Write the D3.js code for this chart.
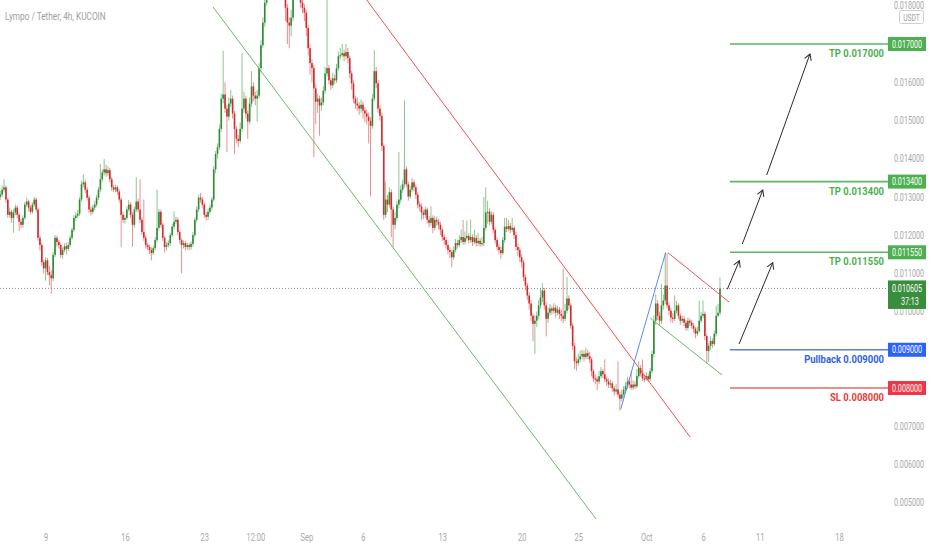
<!DOCTYPE html>
<html><head><meta charset="utf-8">
<script src="https://cdn.jsdelivr.net/npm/d3@7"></script>
<style>body{margin:0;background:#fff;} svg{display:block;font-family:Roboto,"DejaVu Sans",sans-serif;}</style>
</head><body>
<svg id="chart" width="932" height="550"></svg>
<script>
// ---------------- DATA ----------------
const title = "Lympo / Tether, 4h, KUCOIN";
const firstCandle = new Date(2022, 7, 5, 0, 0);   // first 4h bar
const firstOpen = 0.01300;
const closes = [
0.01306,0.01319,0.01325,0.01293,0.01253,0.01261,0.01245,0.01259,0.01272,0.01253,
0.01235,0.01227,0.01245,0.01280,0.01288,0.01272,0.01261,0.01280,0.01293,0.01267,
0.01193,0.01174,0.01129,0.01113,0.01134,0.01103,0.01095,0.01087,0.01148,0.01193,
0.01182,0.01174,0.01148,0.01161,0.01171,0.01164,0.01174,0.01193,0.01214,0.01245,
0.01251,0.01256,0.01293,0.01333,0.01338,0.01319,0.01298,0.01267,0.01261,0.01272,
0.01280,0.01298,0.01319,0.01346,0.01364,0.01372,0.01362,0.01370,0.01346,0.01325,
0.01319,0.01325,0.01314,0.01293,0.01253,0.01240,0.01245,0.01267,0.01280,0.01253,
0.01227,0.01267,0.01288,0.01267,0.01240,0.01208,0.01193,0.01174,0.01169,0.01161,
0.01153,0.01166,0.01187,0.01219,0.01261,0.01227,0.01193,0.01169,0.01174,0.01179,
0.01200,0.01222,0.01235,0.01240,0.01208,0.01187,0.01174,0.01179,0.01169,0.01174,
0.01169,0.01177,0.01200,0.01240,0.01267,0.01298,0.01293,0.01280,0.01253,0.01248,
0.01261,0.01272,0.01293,0.01372,0.01412,0.01430,0.01478,0.01557,0.01568,0.01531,
0.01510,0.01544,0.01557,0.01518,0.01478,0.01452,0.01446,0.01478,0.01531,0.01557,
0.01518,0.01497,0.01544,0.01589,0.01565,0.01557,0.01565,0.01637,0.01697,0.01756,
0.01808,0.01848,0.01888,0.01914,0.01901,0.01941,0.01927,0.01901,0.01874,0.01848,
0.01835,0.01795,0.01756,0.01748,0.01769,0.01835,0.01874,0.01848,0.01835,0.01808,
0.01795,0.01782,0.01742,0.01689,0.01650,0.01637,0.01584,0.01549,0.01557,0.01539,
0.01547,0.01578,0.01623,0.01637,0.01605,0.01592,0.01610,0.01605,0.01637,0.01668,
0.01671,0.01676,0.01668,0.01679,0.01663,0.01623,0.01597,0.01557,0.01544,0.01539,
0.01531,0.01541,0.01526,0.01518,0.01510,0.01499,0.01486,0.01557,0.01629,0.01597,
0.01531,0.01512,0.01433,0.01253,0.01293,0.01280,0.01312,0.01267,0.01227,0.01245,
0.01280,0.01293,0.01319,0.01333,0.01372,0.01333,0.01301,0.01319,0.01338,0.01325,
0.01306,0.01280,0.01275,0.01259,0.01253,0.01267,0.01240,0.01232,0.01245,0.01219,
0.01240,0.01235,0.01227,0.01214,0.01195,0.01187,0.01174,0.01161,0.01156,0.01142,
0.01161,0.01179,0.01174,0.01187,0.01195,0.01182,0.01193,0.01198,0.01187,0.01195,
0.01182,0.01193,0.01179,0.01185,0.01177,0.01179,0.01219,0.01259,0.01261,0.01235,
0.01253,0.01214,0.01187,0.01169,0.01161,0.01153,0.01187,0.01222,0.01216,0.01224,
0.01214,0.01219,0.01200,0.01169,0.01161,0.01142,0.01129,0.01090,0.01068,0.01042,
0.01021,0.00989,0.00968,0.00976,0.00989,0.01016,0.01037,0.01055,0.01016,0.00981,
0.00997,0.01008,0.01002,0.01010,0.00997,0.01005,0.00994,0.00989,0.00981,0.01002,
0.01034,0.01016,0.00963,0.00910,0.00870,0.00865,0.00875,0.00883,0.00889,0.00881,
0.00891,0.00883,0.00875,0.00844,0.00825,0.00823,0.00817,0.00831,0.00844,0.00836,
0.00823,0.00817,0.00809,0.00812,0.00799,0.00791,0.00796,0.00783,0.00772,0.00783,
0.00796,0.00804,0.00817,0.00809,0.00801,0.00809,0.00804,0.00831,0.00852,0.00838,
0.00825,0.00823,0.00831,0.00823,0.00844,0.00889,0.00976,0.01021,0.00989,0.00976,
0.01016,0.01029,0.01068,0.01016,0.01002,0.00984,0.00981,0.01002,0.01016,0.00989,
0.00976,0.00981,0.00971,0.00957,0.00976,0.00971,0.00963,0.00955,0.00942,0.00949,
0.00976,0.00989,0.00994,0.00936,0.00897,0.00910,0.00923,0.00915,0.00942,0.00989,
0.00997,0.010605];
const highs = [
0.01316,0.01330,0.01346,0.01330,0.01298,0.01272,0.01266,0.01268,0.01280,0.01278,
0.01259,0.01242,0.01252,0.01287,0.01298,0.01292,0.01278,0.01286,0.01300,0.01298,
0.01272,0.01200,0.01180,0.01136,0.01142,0.01140,0.01120,0.01108,0.01156,0.01200,
0.01198,0.01188,0.01180,0.01168,0.01178,0.01180,0.01182,0.01200,0.01220,0.01252,
0.01260,0.01266,0.01300,0.01342,0.01359,0.01345,0.01325,0.01304,0.01275,0.01280,
0.01290,0.01305,0.01326,0.01386,0.01372,0.01399,0.01385,0.01380,0.01376,0.01352,
0.01332,0.01332,0.01330,0.01320,0.01298,0.01260,0.01252,0.01275,0.01292,0.01286,
0.01260,0.01275,0.01351,0.01295,0.01346,0.01246,0.01293,0.01200,0.01180,0.01175,
0.01168,0.01172,0.01195,0.01319,0.01268,0.01266,0.01232,0.01198,0.01182,0.01186,
0.01206,0.01230,0.01262,0.01248,0.01246,0.01214,0.01192,0.01186,0.01185,0.01180,
0.01180,0.01184,0.01208,0.01246,0.01274,0.01306,0.01310,0.01300,0.01286,0.01260,
0.01270,0.01280,0.01300,0.01380,0.01420,0.01440,0.01490,0.01570,0.01682,0.01600,
0.01540,0.01560,0.01580,0.01565,0.01525,0.01485,0.01462,0.01495,0.01676,0.01575,
0.01565,0.01525,0.01560,0.01629,0.01600,0.01575,0.01580,0.01650,0.01710,0.01770,
0.01825,0.01870,0.01905,0.01935,0.01925,0.01960,0.01955,0.01935,0.01910,0.01880,
0.01860,0.01845,0.01805,0.01770,0.01790,0.01850,0.01890,0.01885,0.01860,0.01845,
0.01820,0.01805,0.01790,0.01750,0.01700,0.01660,0.01645,0.01595,0.01570,0.01565,
0.01560,0.01590,0.01640,0.01816,0.01645,0.01612,0.01625,0.01620,0.01648,0.01680,
0.01690,0.01700,0.01685,0.01700,0.01690,0.01670,0.01630,0.01605,0.01565,0.01560,
0.01548,0.01555,0.01550,0.01535,0.01528,0.01520,0.01508,0.01570,0.01684,0.01640,
0.01605,0.01540,0.01520,0.01440,0.01340,0.01305,0.01325,0.01320,0.01275,0.01260,
0.01290,0.01417,0.01330,0.01345,0.01552,0.01380,0.01340,0.01330,0.01350,0.01345,
0.01332,0.01312,0.01288,0.01282,0.01266,0.01275,0.01272,0.01250,0.01275,0.01252,
0.01250,0.01248,0.01242,0.01235,0.01220,0.01202,0.01195,0.01180,0.01168,0.01162,
0.01170,0.01190,0.01188,0.01200,0.01215,0.01240,0.01210,0.01238,0.01205,0.01240,
0.01202,0.01215,0.01200,0.01205,0.01192,0.01195,0.01300,0.01325,0.01290,0.01270,
0.01262,0.01260,0.01220,0.01195,0.01178,0.01170,0.01195,0.01245,0.01245,0.01240,
0.01232,0.01245,0.01225,0.01208,0.01178,0.01168,0.01150,0.01135,0.01098,0.01075,
0.01050,0.01030,0.00995,0.00990,0.01000,0.01030,0.01060,0.01074,0.01062,0.01025,
0.01010,0.01020,0.01015,0.01022,0.01018,0.01015,0.01012,0.01005,0.01113,0.01020,
0.01090,0.01042,0.01022,0.00970,0.00918,0.00880,0.00890,0.00898,0.00900,0.00898,
0.00905,0.00900,0.00895,0.00880,0.00850,0.00835,0.00830,0.00845,0.00855,0.00850,
0.00875,0.00830,0.00825,0.00822,0.00818,0.00805,0.00810,0.00870,0.00790,0.00795,
0.00805,0.00815,0.00830,0.00825,0.00845,0.00820,0.00818,0.00850,0.00870,0.00860,
0.00875,0.00835,0.00842,0.00838,0.00852,0.00898,0.00990,0.01045,0.01030,0.01000,
0.01072,0.01045,0.01155,0.01153,0.01025,0.01010,0.00995,0.01042,0.01028,0.01022,
0.00995,0.00990,0.00988,0.00978,0.00985,0.00982,0.00978,0.00970,0.00960,0.00960,
0.01029,0.01000,0.01029,0.01000,0.00942,0.00918,0.00935,0.00930,0.00950,0.01015,
0.01020,0.01089];
const lows = [
0.01292,0.01300,0.01312,0.01285,0.01245,0.01246,0.01232,0.01206,0.01252,0.01245,
0.01210,0.01218,0.01220,0.01240,0.01274,0.01262,0.01254,0.01256,0.01274,0.01260,
0.01185,0.01160,0.01120,0.01100,0.01081,0.01095,0.01068,0.01047,0.01080,0.01142,
0.01170,0.01165,0.01140,0.01138,0.01155,0.01150,0.01158,0.01168,0.01188,0.01208,
0.01238,0.01244,0.01250,0.01288,0.01325,0.01310,0.01290,0.01258,0.01252,0.01255,
0.01265,0.01274,0.01292,0.01312,0.01340,0.01356,0.01352,0.01355,0.01338,0.01316,
0.01312,0.01312,0.01305,0.01285,0.01169,0.01232,0.01230,0.01240,0.01262,0.01245,
0.01169,0.01220,0.01260,0.01260,0.01232,0.01200,0.01185,0.01165,0.01160,0.01150,
0.01134,0.01148,0.01160,0.01180,0.01212,0.01220,0.01185,0.01155,0.01160,0.01168,
0.01172,0.01195,0.01215,0.01228,0.01200,0.01178,0.01100,0.01165,0.01160,0.01162,
0.01160,0.01162,0.01170,0.01194,0.01234,0.01260,0.01285,0.01272,0.01245,0.01238,
0.01240,0.01255,0.01265,0.01288,0.01362,0.01400,0.01422,0.01470,0.01545,0.01520,
0.01417,0.01500,0.01535,0.01505,0.01412,0.01440,0.01430,0.01440,0.01470,0.01520,
0.01505,0.01452,0.01490,0.01535,0.01550,0.01540,0.01496,0.01558,0.01625,0.01690,
0.01745,0.01800,0.01835,0.01880,0.01885,0.01895,0.01915,0.01890,0.01860,0.01835,
0.01825,0.01760,0.01700,0.01689,0.01720,0.01760,0.01825,0.01835,0.01820,0.01795,
0.01780,0.01760,0.01720,0.01670,0.01620,0.01600,0.01404,0.01490,0.01520,0.01460,
0.01525,0.01540,0.01570,0.01615,0.01595,0.01580,0.01585,0.01595,0.01598,0.01630,
0.01660,0.01665,0.01655,0.01660,0.01650,0.01610,0.01580,0.01545,0.01530,0.01525,
0.01515,0.01520,0.01505,0.01495,0.01490,0.01440,0.01301,0.01478,0.01550,0.01585,
0.01520,0.01500,0.01420,0.01240,0.01245,0.01260,0.01272,0.01195,0.01169,0.01215,
0.01238,0.01270,0.01285,0.01310,0.01325,0.01325,0.01290,0.01295,0.01312,0.01315,
0.01295,0.01270,0.01262,0.01240,0.01242,0.01245,0.01230,0.01220,0.01225,0.01205,
0.01212,0.01225,0.01215,0.01200,0.01185,0.01175,0.01165,0.01150,0.01140,0.01116,
0.01135,0.01155,0.01165,0.01168,0.01180,0.01175,0.01176,0.01185,0.01178,0.01180,
0.01172,0.01176,0.01170,0.01172,0.01170,0.01170,0.01172,0.01212,0.01230,0.01225,
0.01228,0.01205,0.01178,0.01160,0.01150,0.01138,0.01148,0.01180,0.01208,0.01210,
0.01205,0.01208,0.01190,0.01160,0.01145,0.01130,0.01115,0.01080,0.01055,0.01030,
0.01005,0.00975,0.00923,0.00889,0.00960,0.00980,0.01008,0.01025,0.01005,0.00935,
0.00970,0.00990,0.00992,0.00995,0.00985,0.00990,0.00980,0.00975,0.00970,0.00975,
0.00995,0.01005,0.00955,0.00900,0.00850,0.00845,0.00858,0.00868,0.00875,0.00870,
0.00875,0.00875,0.00865,0.00830,0.00815,0.00810,0.00795,0.00810,0.00825,0.00826,
0.00815,0.00805,0.00800,0.00800,0.00790,0.00780,0.00785,0.00775,0.00741,0.00765,
0.00775,0.00790,0.00798,0.00800,0.00795,0.00795,0.00797,0.00800,0.00825,0.00830,
0.00818,0.00815,0.00818,0.00815,0.00818,0.00838,0.00880,0.00965,0.00978,0.00962,
0.00968,0.01005,0.01020,0.01008,0.00990,0.00972,0.00970,0.00975,0.00995,0.00980,
0.00965,0.00970,0.00962,0.00950,0.00950,0.00962,0.00955,0.00945,0.00930,0.00935,
0.00945,0.00970,0.00982,0.00925,0.00865,0.00868,0.00900,0.00905,0.00910,0.00935,
0.00985,0.00990];

const priceTicks = [0.005,0.006,0.007,0.008,0.009,0.010,0.011,0.012,0.013,0.014,0.015,0.016,0.017,0.018];
const timeTickDates = [new Date(2022,7,9), new Date(2022,7,16), new Date(2022,7,23), new Date(2022,7,27,12),
  new Date(2022,8,1), new Date(2022,8,6), new Date(2022,8,13), new Date(2022,8,20), new Date(2022,8,25),
  new Date(2022,9,1), new Date(2022,9,6), new Date(2022,9,11), new Date(2022,9,18)];
const timeTickLabels = ["9","16","23","12:00","Sep","6","13","20","25","Oct","6","11","18"];

// horizontal target levels
const levelKinds  = ["tp","tp","tp","pullback","sl"];
const levelNames  = ["TP","TP","TP","Pullback","SL"];
const levelValues = [0.017, 0.0134, 0.01155, 0.009, 0.008];
const levelStart  = new Date(2022, 9, 8, 9, 0);
const lastPrice = 0.010605;
const countdown = "37:13";

// trend lines: [kind, [date, price], [date, price]]
const trendLines = [
  ["green", [new Date(2022,7,23,18,30), 0.017968], [new Date(2022,8,26,13,30), 0.004573]],
  ["red",   [new Date(2022,8,6,8,0),    0.018151], [new Date(2022,9,4,20,40),  0.006718]],
  ["blue",  [new Date(2022,8,28,17,45), 0.007443], [new Date(2022,9,2,17,0),   0.011540]],
  ["red",   [new Date(2022,9,2,21,50),  0.011540], [new Date(2022,9,8,7,10),   0.010250]],
  ["green", [new Date(2022,9,1,8,0),    0.009831], [new Date(2022,9,7,16,20),  0.008340]]
];
// projected arrows: [from, to]
const arrows = [
  [[new Date(2022,9,8,3,30),  0.010582], [new Date(2022,9,9,5,0),   0.011331]],
  [[new Date(2022,9,9,4,20),  0.009151], [new Date(2022,9,12,3,40), 0.011278]],
  [[new Date(2022,9,9,11,15), 0.011767], [new Date(2022,9,11,6,30), 0.013180]],
  [[new Date(2022,9,11,15,0), 0.013573], [new Date(2022,9,15,10,30),0.016738]]
];

// ---------------- STYLE ----------------
const paneRight = 888, paneBottom = 522;
const col = {
  upBody:"#2f8a35", downBody:"#d8282c", upWick:"#8cc58f", downWick:"#ec8f8f",
  green:"#66bb6a", red:"#ef5350", blue:"#5b8def",
  tpLine:"#5cb660", pullbackLine:"#5b80d6", slLine:"#e36a64",
  tpText:"#4caf50", pullbackText:"#2e62e8", slText:"#ef3b36",
  tpBox:"#4caf50", pullbackBox:"#2962ff", slBox:"#f23645", lastBox:"#388e3c",
  axisText:"#a8a8a8"
};
const lineCol = {tp:col.tpLine, pullback:col.pullbackLine, sl:col.slLine};
const textCol = {tp:col.tpText, pullback:col.pullbackText, sl:col.slText};
const boxCol  = {tp:col.tpBox, pullback:col.pullbackBox, sl:col.slBox};
const fmt = d3.format(".6f");

// ---------------- SCALES ----------------
const x = d3.scaleTime().domain([new Date(2022,7,9), new Date(2022,9,18)]).range([45.6, 839]);
const y = d3.scaleLinear().domain([0.017, 0.008]).range([44, 388]);

const svg = d3.select("#chart");
svg.append("rect").attr("width",932).attr("height",550).attr("fill","#fff");
svg.append("defs").append("clipPath").attr("id","pane")
  .append("rect").attr("x",0).attr("y",0).attr("width",paneRight).attr("height",paneBottom);
svg.select("defs").append("marker").attr("id","arrowhead")
  .attr("markerUnits","userSpaceOnUse").attr("markerWidth",10).attr("markerHeight",10)
  .attr("refX",7).attr("refY",4).attr("orient","auto")
  .append("path").attr("d","M1,0.5 L7,4 L1,7.5").attr("fill","none").attr("stroke","#2a2a2a").attr("stroke-width",1);

const pane = svg.append("g").attr("clip-path","url(#pane)");

// candles
const H4 = 4*3600*1000;
const candles = closes.map((c,i)=>({t:new Date(+firstCandle + i*H4), o: i ? closes[i-1] : firstOpen, c, h:highs[i], l:lows[i]}));
const step = x(new Date(+firstCandle + H4)) - x(firstCandle);
const bw = step*0.85;

pane.append("g").selectAll("line").data(candles).join("line")
  .attr("x1",d=>x(d.t)).attr("x2",d=>x(d.t))
  .attr("y1",d=>y(Math.max(d.h,d.o,d.c))).attr("y2",d=>y(Math.min(d.l,d.o,d.c)))
  .attr("stroke",d=>d.c>=d.o?col.upWick:col.downWick).attr("stroke-width",1);
pane.append("g").selectAll("rect").data(candles).join("rect")
  .attr("x",d=>x(d.t)-bw/2).attr("width",bw)
  .attr("y",d=>y(Math.max(d.o,d.c)))
  .attr("height",d=>Math.max(1.2, Math.abs(y(d.o)-y(d.c))))
  .attr("fill",d=>d.c>=d.o?col.upBody:col.downBody);

// trend lines
pane.append("g").selectAll("line").data(trendLines).join("line")
  .attr("x1",d=>x(d[1][0])).attr("y1",d=>y(d[1][1]))
  .attr("x2",d=>x(d[2][0])).attr("y2",d=>y(d[2][1]))
  .attr("stroke",d=>col[d[0]]).attr("stroke-width",1);

// last price dotted line
pane.append("line").attr("x1",0).attr("x2",paneRight).attr("y1",y(lastPrice)).attr("y2",y(lastPrice))
  .attr("stroke","#8f8f8f").attr("stroke-width",1).attr("stroke-dasharray","1,2");

// levels
const lv = pane.append("g");
levelValues.forEach((v,i)=>{
  const k = levelKinds[i];
  lv.append("line").attr("x1",x(levelStart)).attr("x2",paneRight).attr("y1",y(v)).attr("y2",y(v))
    .attr("stroke",lineCol[k]).attr("stroke-width",1.6);
  lv.append("text").attr("transform",`translate(884,${y(v)+13}) scale(0.86,1)`)
    .attr("text-anchor","end").attr("font-size",11).attr("font-weight","bold")
    .attr("fill",textCol[k]).text(levelNames[i]+" "+fmt(v));
});

// arrows
pane.append("g").selectAll("line").data(arrows).join("line")
  .attr("x1",d=>x(d[0][0])).attr("y1",d=>y(d[0][1]))
  .attr("x2",d=>x(d[1][0])).attr("y2",d=>y(d[1][1]))
  .attr("stroke","#2a2a2a").attr("stroke-width",1).attr("marker-end","url(#arrowhead)");

// title
svg.append("text").attr("transform","translate(5,20) scale(0.75,1)")
  .attr("font-size",11).attr("fill","#a0a0a0").text(title);

// right price axis (ticks hidden behind a level box are not drawn)
const axisTicks = priceTicks.filter(t => !levelValues.some(v => Math.abs(v - t) < 1e-9));
const ya = svg.append("g").attr("transform","translate(909,0)")
  .call(d3.axisRight(y).tickValues(axisTicks).tickFormat(fmt).tickSize(0));
ya.select(".domain").remove();
ya.selectAll("text").attr("x",0).attr("text-anchor","middle").attr("font-size",10)
  .attr("font-family","Roboto, sans-serif").attr("fill",col.axisText).attr("transform","scale(0.72,1)");

// USDT badge
svg.append("rect").attr("x",899.5).attr("y",10.5).attr("width",24).attr("height",13).attr("rx",2)
  .attr("fill","#fff").attr("stroke","#cfcfcf");
svg.append("text").attr("transform","translate(911.5,20.5) scale(0.75,1)").attr("text-anchor","middle")
  .attr("font-size",9).attr("fill","#a0a0a0").text("USDT");

// price boxes
levelValues.forEach((v,i)=>{
  const k = levelKinds[i];
  svg.append("rect").attr("x",888).attr("y",y(v)-7).attr("width",38).attr("height",14).attr("fill",boxCol[k]);
  svg.append("text").attr("transform",`translate(907,${y(v)+3.6}) scale(0.72,1)`).attr("text-anchor","middle")
    .attr("font-size",10).attr("fill","#fff").text(fmt(v));
});
svg.append("rect").attr("x",888).attr("y",y(lastPrice)-8).attr("width",38).attr("height",28.5).attr("fill",col.lastBox);
svg.append("text").attr("transform",`translate(907,${y(lastPrice)+3.6}) scale(0.72,1)`).attr("text-anchor","middle")
  .attr("font-size",10).attr("fill","#fff").text(fmt(lastPrice));
svg.append("text").attr("transform",`translate(901,${y(lastPrice)+16.5}) scale(0.72,1)`).attr("text-anchor","start")
  .attr("font-size",10).attr("fill","#fff").text(countdown);

// time axis
const xa = svg.append("g").attr("transform","translate(0,537.5)")
  .call(d3.axisBottom(x).tickValues(timeTickDates).tickFormat((d,i)=>timeTickLabels[i]).tickSize(0));
xa.select(".domain").remove();
xa.selectAll(".tick text").attr("y",0).attr("dy","0.32em").attr("font-size",10)
  .attr("font-family","Roboto, sans-serif").attr("fill",col.axisText).attr("transform","scale(0.75,1)");
</script>
</body></html>
